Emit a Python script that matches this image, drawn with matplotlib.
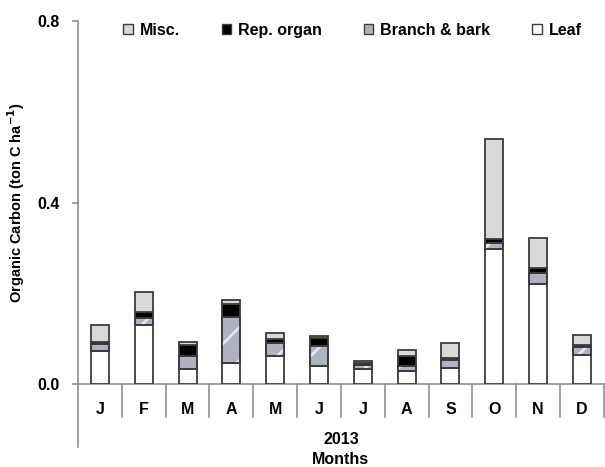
import numpy as np
import matplotlib
matplotlib.use("Agg")
import matplotlib.pyplot as plt
from matplotlib.patches import Patch

# monthly organic carbon pools, ton C ha-1
months = ["J", "F", "M", "A", "M", "J", "J", "A", "S", "O", "N", "D"]
leaf = [0.073, 0.129, 0.032, 0.046, 0.062, 0.040, 0.032, 0.029, 0.035, 0.298, 0.221, 0.065]
branch = [0.015, 0.017, 0.029, 0.102, 0.028, 0.044, 0.011, 0.010, 0.018, 0.012, 0.023, 0.016]
rep_organ = [0.004, 0.013, 0.024, 0.028, 0.010, 0.017, 0.004, 0.022, 0.005, 0.009, 0.011, 0.004]
misc = [0.038, 0.043, 0.008, 0.009, 0.013, 0.004, 0.004, 0.013, 0.032, 0.220, 0.067, 0.023]
yticks = [0.0, 0.4, 0.8]
year = "2013"

plt.rcParams["font.family"] = ["Liberation Sans", "DejaVu Sans"]
plt.rcParams["font.weight"] = "bold"
plt.rcParams["axes.labelweight"] = "bold"
plt.rcParams["hatch.linewidth"] = 2.0

grey = "#868686"
edge = "#3c3c3c"
c_misc = "#d9d9d9"
c_rep = "#000000"
c_branch = "#aeb2c2"
c_leaf = "#ffffff"

fig = plt.figure(figsize=(6.05, 4.67), dpi=100)
ax = fig.add_axes([0.129, 0.1777, 0.869, 0.7773])

x = np.arange(len(months))
w = 0.41
leaf = np.array(leaf)
branch = np.array(branch)
rep_organ = np.array(rep_organ)
misc = np.array(misc)

ax.bar(x, leaf, w, color=c_leaf, edgecolor=edge, linewidth=1.3, zorder=3)
b1 = leaf
ax.bar(x, branch, w, bottom=b1, color=c_branch, edgecolor=edge, linewidth=1.3, zorder=3)
ax.bar(x, branch, w, bottom=b1, color="none", edgecolor="white", hatch="/",
       linewidth=0, alpha=0.7, zorder=3)
ax.bar(x, branch, w, bottom=b1, color="none", edgecolor=edge, linewidth=1.3, zorder=3)
b2 = b1 + branch
ax.bar(x, rep_organ, w, bottom=b2, color=c_rep, edgecolor=edge, linewidth=1.3, zorder=3)
b3 = b2 + rep_organ
ax.bar(x, misc, w, bottom=b3, color=c_misc, edgecolor=edge, linewidth=1.3, zorder=3)

ax.set_xlim(-0.5, len(months) - 0.5)
ax.set_ylim(0, 0.8)
ax.set_yticks(yticks)
ax.set_yticklabels([f"{v:.1f}" for v in yticks], fontsize=11.5)
ax.set_xticks(x)
ax.set_xticklabels(months, fontsize=11.5)
ax.tick_params(axis="x", length=0, pad=13)
ax.tick_params(axis="y", direction="out", length=4, width=1.1, color=grey, pad=9)

for s in ["top", "right"]:
    ax.spines[s].set_visible(False)
for s in ["left", "bottom"]:
    ax.spines[s].set_color(grey)
    ax.spines[s].set_linewidth(1.1)

# category dividers below the axis, plus the longer left border
for xb in np.arange(-0.5, len(months), 1.0):
    y_end = -0.1736 if xb == -0.5 else -0.0909
    ax.plot([xb, xb], [0, y_end], color=grey, lw=1.1, clip_on=False,
            transform=ax.get_xaxis_transform())

ax.text(0.5, -0.152, year, transform=ax.transAxes, ha="center", va="center",
        fontsize=11.5)
ax.text(0.5, -0.207, "Months", transform=ax.transAxes, ha="center", va="center",
        fontsize=11.5)

ax.set_ylabel(r"Organic Carbon (ton C ha$^{\mathbf{-1}}$)", fontsize=10.5)
ax.yaxis.set_label_coords(-0.098, 0.5)

handles = [
    Patch(facecolor=c_misc, edgecolor=edge, label="Misc."),
    Patch(facecolor=c_rep, edgecolor=edge, label="Rep. organ"),
    Patch(facecolor=c_branch, edgecolor=edge, label="Branch & bark"),
    Patch(facecolor=c_leaf, edgecolor=edge, label="Leaf"),
]
ax.legend(handles=handles, ncol=4, loc="upper center", bbox_to_anchor=(0.522, 1.035),
          frameon=False, fontsize=11.5, handlelength=0.6, handleheight=0.6,
          handletextpad=0.45, columnspacing=2.6)

fig.savefig("out.png", dpi=100)
